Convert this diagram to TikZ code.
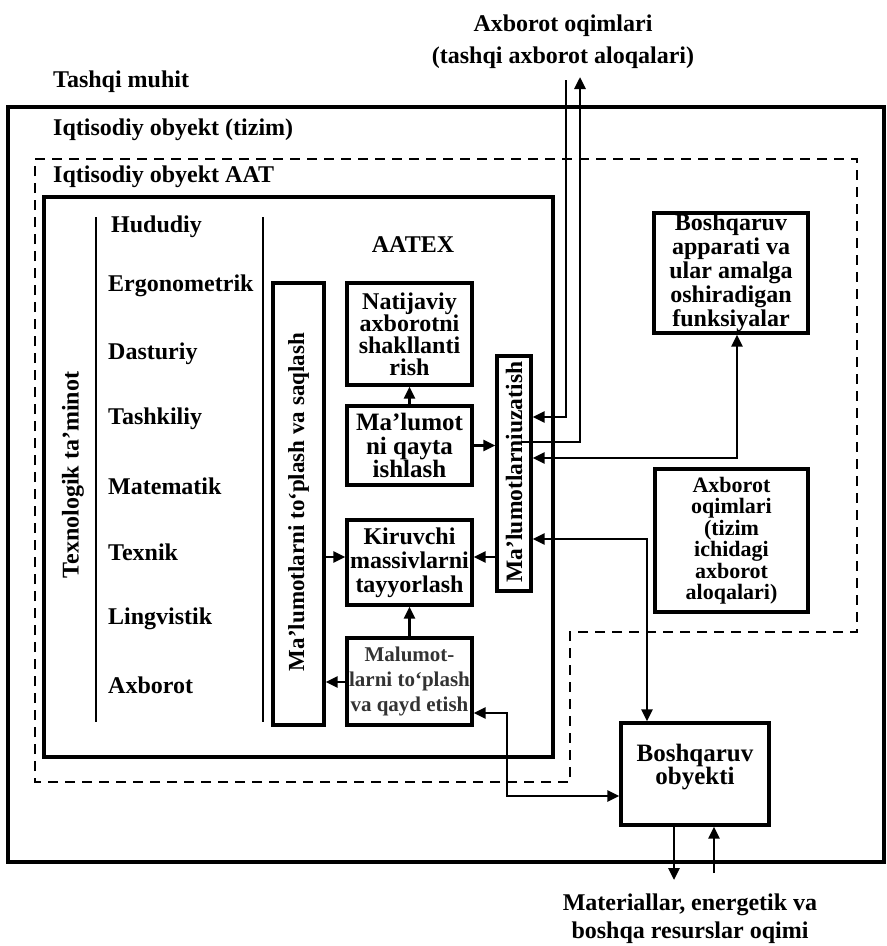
\documentclass[tikz,border=0pt]{standalone}
\usepackage{fontspec}
\setmainfont{Liberation Serif}
\usetikzlibrary{arrows.meta,calc}
\begin{document}
\begin{tikzpicture}[x=1pt,y=-1pt,
  every node/.style={font=\bfseries\fontsize{24}{22}\selectfont, inner sep=0pt},
  box/.style={draw, line width=3.3pt, align=center},
  frame/.style={line width=3.3pt},
  sep/.style={line width=2.8pt},
  dashframe/.style={line width=2.2pt, dash pattern=on 10pt off 7pt},
  tip/.tip={Triangle[length=12pt,width=11pt]},
  conn/.style={line width=2.8pt, -tip},
  dbl/.style={line width=2.8pt, tip-tip},
  item/.style={anchor=west},
]
\useasboundingbox (0,0) rectangle (887,946);

% frames
\draw[frame] (8,107) rectangle (884,862);
\draw[dashframe] (35,159) -- (857,159) -- (857,632) -- (570,632) -- (570,782) -- (35,782) -- cycle;
\draw[frame] (44,197) rectangle (553,757);
\draw[sep] (96,217) -- (96,722);
\draw[sep] (263,217) -- (263,722);

% header texts
\node[align=center, font=\bfseries\fontsize{24}{32}\selectfont] (tophdr) at (563,42) {Axborot oqimlari\\(tashqi axborot aloqalari)};
\node[item] (tashqi) at (53,82) {Tashqi muhit};
\node[item] (tizim) at (53,130) {Iqtisodiy obyekt (tizim)};
\node[item] (aat) at (53,177) {Iqtisodiy obyekt AAT};
\node[align=center, font=\bfseries\fontsize{24}{28}\selectfont] (resurs) at (690,919) {Materiallar, energetik va\\boshqa resurslar oqimi};

% left column
\node[rotate=90] (texn) at (73,475) {Texnologik ta’minot};
\node[item] (l1) at (111,227) {Hududiy};
\node[item] (l2) at (108,286) {Ergonometrik};
\node[item] (l3) at (108,354) {Dasturiy};
\node[item] (l4) at (108,419) {Tashkiliy};
\node[item] (l5) at (108,486) {Matematik};
\node[item] (l6) at (108,552) {Texnik};
\node[item] (l7) at (108,619) {Lingvistik};
\node[item] (l8) at (108,685) {Axborot};

\node (aatex) at (413,245) {AATEX};

% boxes
\node[box, minimum width=51, minimum height=442] (bigL) at (298.5,504) {};
\node[rotate=90, font=\bfseries\fontsize{23}{22}\selectfont] (bigLt) at (298.5,502) {Ma’lumotlarni to‘plash va saqlash};
\node[box, minimum width=125, minimum height=102] (nat) at (409.5,334) {Natijaviy\\axborotni\\shakllanti\\rish};
\node[box, minimum width=125, minimum height=79, font=\bfseries\fontsize{25}{23.5}\selectfont] (qayta) at (409.5,445.5) {Ma’lumot\\ni qayta\\ishlash};
\node[box, minimum width=125, minimum height=85, font=\bfseries\fontsize{24}{24}\selectfont] (kir) at (409.5,562.5) {Kiruvchi\\massivlarni\\tayyorlash};
\node[box, minimum width=125, minimum height=87, font=\bfseries\fontsize{21}{25}\selectfont, text=black!80] (top) at (409.5,681.5) {Malumot-\\larni to‘plash\\va qayd etish};
\node[box, minimum width=34, minimum height=235] (uz) at (514,473.5) {};
\node[rotate=90, font=\bfseries\fontsize{23.5}{22}\selectfont] (uzt) at (514,472) {Ma’lumotlarniuzatish};
\node[box, minimum width=154, minimum height=120, font=\bfseries\fontsize{24}{24}\selectfont] (app) at (731,273) {Boshqaruv\\apparati va\\ular amalga\\oshiradigan\\funksiyalar};
\node[box, minimum width=153, minimum height=143, font=\bfseries\fontsize{22}{21.5}\selectfont] (tiz) at (731.5,540.5) {Axborot\\oqimlari\\(tizim\\ichidagi\\axborot\\aloqalari)};
\node[box, minimum width=148, minimum height=102] (obj) at (695,774) {};
\node[align=center, font=\bfseries\fontsize{25}{22}\selectfont] (objt) at (695,767) {Boshqaruv\\obyekti};

% free ends
\coordinate (topA) at (566,80);
\coordinate (topB) at (580,77);
\coordinate (j11) at (507,796);
\coordinate (bot1) at (674,880);
\coordinate (bot2) at (714,873);
\coordinate (u8) at ($(uz.east |- 0,442)+(-11,0)$);

% internal connectors
\draw[conn] (qayta.north) -- (nat.south);
\draw[conn] (qayta.east) -- (uz.west |- qayta.east);
\draw[conn] (uz.west |- 0,557) -- (kir.east |- 0,557);
\draw[conn] (bigL.east |- 0,557) -- (kir.west |- 0,557);
\draw[conn] (top.west |- 0,682) -- (bigL.east |- 0,682);
\draw[conn] (top.north) -- (kir.south);

% external connectors
\draw[conn] (topA) |- (uz.east |- 0,417);
\draw[conn] (u8) -| (topB);
\draw[dbl] (uz.east |- 0,458) -| (app.south -| 737,0);
\draw[dbl] (uz.east |- 0,539) -| (obj.north -| 647,0);
\draw[dbl] (top.east |- 0,713) -| (j11) -- (obj.west |- j11);
\draw[conn] (obj.south -| bot1) -- (bot1);
\draw[conn] (bot2) -- (obj.south -| bot2);
\end{tikzpicture}
\end{document}
